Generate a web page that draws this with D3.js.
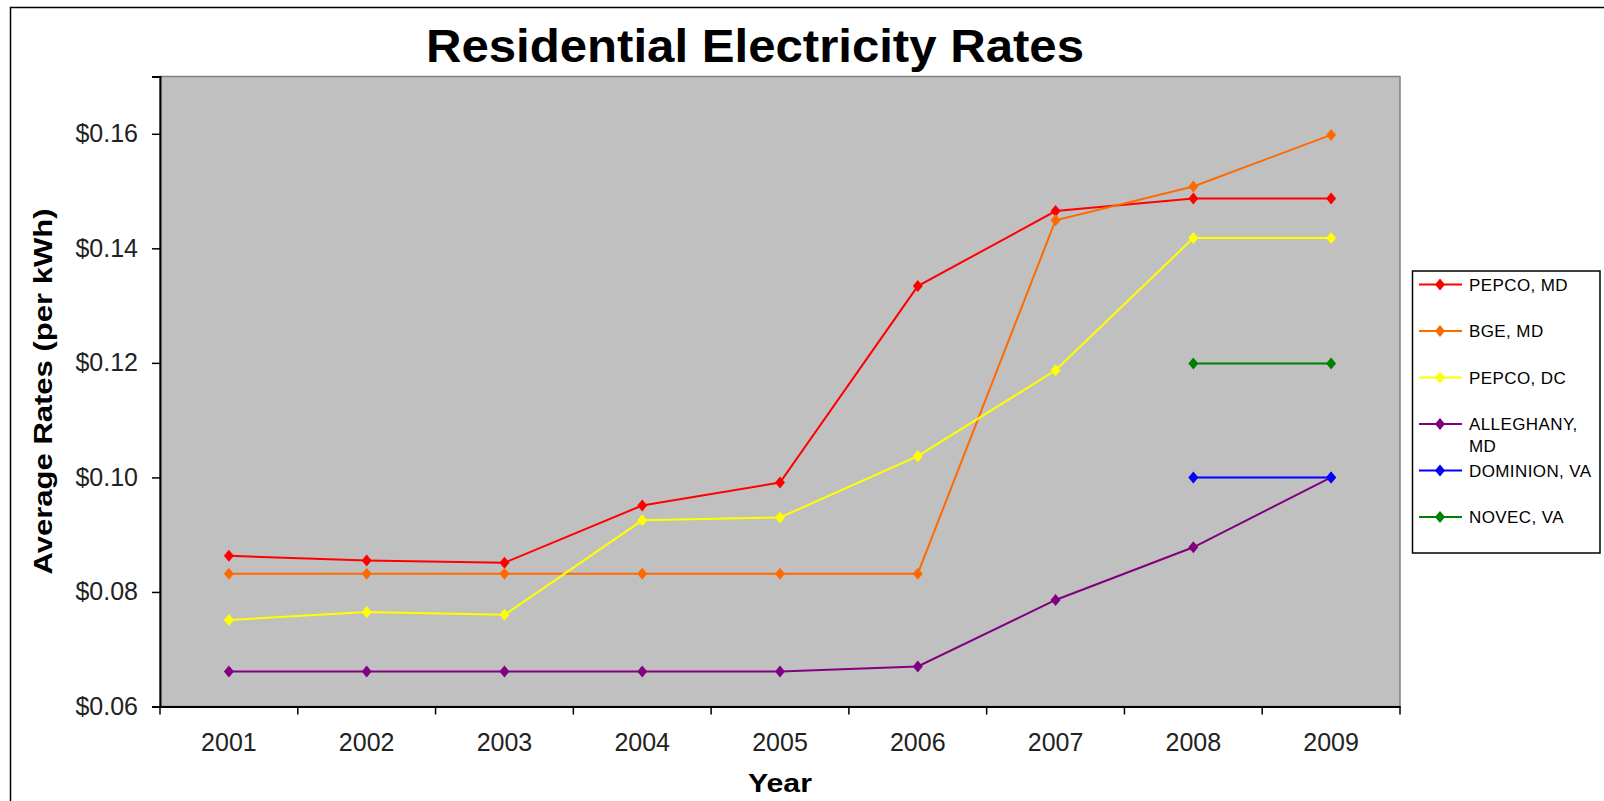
<!DOCTYPE html>
<html>
<head>
<meta charset="utf-8">
<script src="https://cdn.jsdelivr.net/npm/d3@7"></script>
<style>
  body { margin: 0; background: #fff; }
  svg { display: block; font-family: "Liberation Sans", Arial, sans-serif; }
</style>
</head>
<body>
<svg id="chart" width="1604" height="801"></svg>
<script>
// data
var years = ["2001", "2002", "2003", "2004", "2005", "2006", "2007", "2008", "2009"];
var pepcoMD     = [0.0863, 0.0855, 0.0851, 0.0951, 0.0991, 0.1334, 0.1465, 0.1487, 0.1487];
var bgeMD       = [0.0832, 0.0832, 0.0832, 0.0832, 0.0832, 0.0832, 0.1449, 0.1508, 0.1598];
var pepcoDC     = [0.0751, 0.0765, 0.0760, 0.0925, 0.0930, 0.1037, 0.1187, 0.1418, 0.1418];
var alleghanyMD = [0.0661, 0.0661, 0.0661, 0.0661, 0.0661, 0.0670, 0.0786, 0.0878, 0.1000];
var dominionVA  = [null, null, null, null, null, null, null, 0.1000, 0.1000];
var novecVA     = [null, null, null, null, null, null, null, 0.1199, 0.1199];
var seriesNames = ["PEPCO, MD", "BGE, MD", "PEPCO, DC", "ALLEGHANY, MD", "DOMINION, VA", "NOVEC, VA"];
var seriesColors = ["#ff0000", "#ff6a00", "#ffff00", "#800080", "#0000ff", "#008000"];
var yTicks = [0.06, 0.08, 0.10, 0.12, 0.14, 0.16];

var series = [pepcoMD, bgeMD, pepcoDC, alleghanyMD, dominionVA, novecVA];

var svg = d3.select("#chart");

var plot = {left: 160, right: 1400, top: 76.5, bottom: 706.5};

var x = d3.scaleBand().domain(years).range([plot.left, plot.right]).padding(0);
var y = d3.scaleLinear().domain([0.06, 0.17]).range([plot.bottom, plot.top]);

// outer chart border (runs off the right and bottom edges)
svg.append("rect")
    .attr("x", 10.5)
    .attr("y", 7.5)
    .attr("width", 1620)
    .attr("height", 820)
    .attr("fill", "#fff")
    .attr("stroke", "#000")
    .attr("stroke-width", 1.5);

// plot area
svg.append("rect")
    .attr("x", plot.left)
    .attr("y", plot.top)
    .attr("width", plot.right - plot.left)
    .attr("height", plot.bottom - plot.top)
    .attr("fill", "#c0c0c0")
    .attr("stroke", "#808080")
    .attr("stroke-width", 1.5);

// title
svg.append("text")
    .attr("x", 755)
    .attr("y", 62)
    .attr("text-anchor", "middle")
    .attr("font-size", "46px")
    .attr("font-weight", "bold")
    .attr("textLength", 658)
    .attr("lengthAdjust", "spacingAndGlyphs")
    .attr("fill", "#000")
    .text("Residential Electricity Rates");

// y axis
var yAxis = svg.append("g")
    .attr("transform", "translate(" + plot.left + ",0)")
    .call(d3.axisLeft(y).tickValues(yTicks).tickFormat(d3.format("$.2f")).tickSize(8).tickPadding(14));
yAxis.select(".domain").attr("stroke", "#000").attr("stroke-width", 2);
yAxis.selectAll(".tick line").attr("stroke", "#000").attr("stroke-width", 1.5);
yAxis.selectAll(".tick text")
    .attr("font-size", "25px")
    .attr("font-family", "\"Liberation Sans\", Arial, sans-serif")
    .attr("fill", "#222");

// x axis: labels centred in each category, ticks on the boundaries
var xAxis = svg.append("g")
    .attr("transform", "translate(0," + plot.bottom + ")")
    .call(d3.axisBottom(x).tickSize(0).tickPadding(27));
xAxis.select(".domain").attr("stroke", "#000").attr("stroke-width", 2);
xAxis.selectAll(".tick text")
    .attr("font-size", "25px")
    .attr("font-family", "\"Liberation Sans\", Arial, sans-serif")
    .attr("fill", "#222");

var bounds = years.map(function(d) { return x(d); }).concat([plot.right]);
svg.append("g").selectAll("line")
    .data(bounds)
    .enter()
    .append("line")
    .attr("x1", function(d) { return d; })
    .attr("x2", function(d) { return d; })
    .attr("y1", plot.bottom)
    .attr("y2", plot.bottom + 8)
    .attr("stroke", "#000")
    .attr("stroke-width", 1.5);

// axis titles
svg.append("text")
    .attr("transform", "translate(43," + ((plot.top + plot.bottom) / 2) + ") rotate(-90)")
    .attr("text-anchor", "middle")
    .attr("dominant-baseline", "central")
    .attr("font-size", "26px")
    .attr("font-weight", "bold")
    .attr("textLength", 366)
    .attr("lengthAdjust", "spacingAndGlyphs")
    .attr("fill", "#000")
    .text("Average Rates (per kWh)");

svg.append("text")
    .attr("x", (plot.left + plot.right) / 2)
    .attr("y", 792)
    .attr("text-anchor", "middle")
    .attr("font-size", "26px")
    .attr("font-weight", "bold")
    .attr("textLength", 64)
    .attr("lengthAdjust", "spacingAndGlyphs")
    .attr("fill", "#000")
    .text("Year");

// lines and diamond markers
var cx = function(i) { return x(years[i]) + x.bandwidth() / 2; };
var line = d3.line()
    .defined(function(d) { return d != null; })
    .x(function(d, i) { return cx(i); })
    .y(function(d) { return y(d); });

var diamond = "M0,-6L5,0L0,6L-5,0Z";

series.forEach(function(values, s) {
    var g = svg.append("g");
    g.append("path")
        .attr("d", line(values))
        .attr("fill", "none")
        .attr("stroke", seriesColors[s])
        .attr("stroke-width", 2);
    g.selectAll("path.pt")
        .data(values.map(function(v, i) { return {v: v, i: i}; }).filter(function(d) { return d.v != null; }))
        .enter()
        .append("path")
        .attr("class", "pt")
        .attr("d", diamond)
        .attr("transform", function(d) { return "translate(" + cx(d.i) + "," + y(d.v) + ")"; })
        .attr("fill", seriesColors[s]);
});

// legend
var legend = svg.append("g");
legend.append("rect")
    .attr("x", 1412.5)
    .attr("y", 271)
    .attr("width", 187.5)
    .attr("height", 282)
    .attr("fill", "#fff")
    .attr("stroke", "#000")
    .attr("stroke-width", 1.5);

var rowY = [284.5, 331, 377.5, 424, 470.5, 517];
seriesNames.forEach(function(name, s) {
    var row = legend.append("g").attr("transform", "translate(0," + rowY[s] + ")");
    row.append("line")
        .attr("x1", 1419)
        .attr("x2", 1462)
        .attr("y1", 0)
        .attr("y2", 0)
        .attr("stroke", seriesColors[s])
        .attr("stroke-width", 2);
    row.append("path")
        .attr("d", diamond)
        .attr("transform", "translate(1440,0)")
        .attr("fill", seriesColors[s]);
    var t = row.append("text")
        .attr("x", 1469)
        .attr("y", 6)
        .attr("font-size", "17px")
        .attr("letter-spacing", "0.4px")
        .attr("fill", "#000");
    if (name === "ALLEGHANY, MD") {
        t.append("tspan").attr("x", 1469).text("ALLEGHANY,");
        t.append("tspan").attr("x", 1469).attr("dy", 22).text("MD");
    } else {
        t.text(name);
    }
});
</script>
</body>
</html>
